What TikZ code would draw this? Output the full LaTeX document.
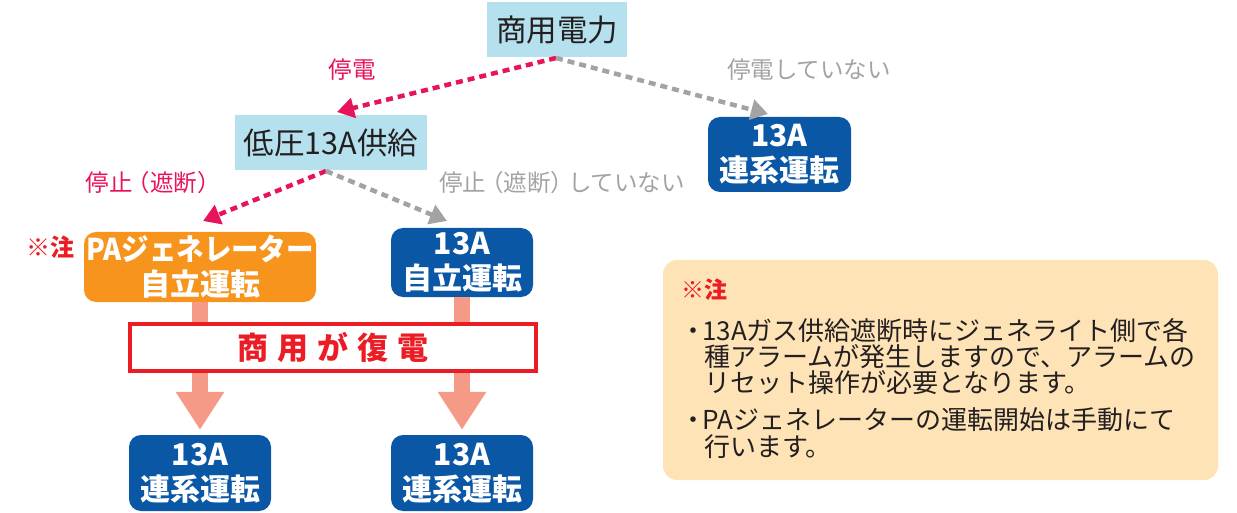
\documentclass[tikz,border=0pt]{standalone}
\usepackage{fontspec}
\setmainfont{Noto Sans CJK JP}
\usetikzlibrary{arrows.meta}
\definecolor{lblue}{HTML}{B5E1EE}
\definecolor{dblue}{HTML}{0A57A5}
\definecolor{orng}{HTML}{F7941D}
\definecolor{pnk}{HTML}{E8145A}
\definecolor{gry}{HTML}{A3A3A5}
\definecolor{slmn}{HTML}{F59A86}
\definecolor{rd}{HTML}{EC1C24}
\definecolor{notebg}{HTML}{FEE3B6}
\definecolor{txt}{HTML}{231F20}
\tikzset{
  lbbox/.style={fill=lblue, text=txt, inner sep=0pt, font=\fontsize{30.5}{33}\selectfont},
  bluebox/.style={fill=dblue, rounded corners=12pt, text=white, inner sep=0pt, align=center, font=\fontsize{30}{35}\selectfont\bfseries},
  orbox/.style={fill=orng, rounded corners=12pt, text=white, inner sep=0pt, align=center, font=\fontsize{30}{35}\selectfont\bfseries},
  lbl/.style={inner sep=0pt, font=\fontsize{23.5}{26}\selectfont},
  pdot/.style={pnk, line width=4.5pt, dash pattern=on 7pt off 5pt, -{Triangle[width=20pt,length=17pt]}},
  gdot/.style={gry, line width=4.5pt, dash pattern=on 7pt off 5pt, -{Triangle[width=20pt,length=17pt]}},
  bigarrow/.style={slmn, line width=16pt, -{Triangle[width=46pt,length=38pt]}},
  noteline/.style={anchor=west, inner sep=0pt, text=txt, font=\fontsize{26}{26}\selectfont},
}
\begin{document}
\begin{tikzpicture}[x=1pt,y=-1pt]
\useasboundingbox (0,0) rectangle (1237,513);
% top level
\node[lbbox, minimum width=140pt, minimum height=55pt] (shoyo) at (557,29.5) {商用電力};
\node[lbbox, minimum width=192pt, minimum height=55pt] (teiatsu) at (331,142.5) {低圧13A供給};
\node[bluebox, minimum width=143pt, minimum height=75pt] (renkeiA) at (779.5,154.5) {13A\\連系運転};
% labels
\node[lbl, text=pnk] (lteiden) at (352,70) {停電};
\node[lbl, text=gry] (lnot) at (809,70) {停電していない};
\node[lbl, text=pnk] (lstop) at (150,183) {停止\kern-6pt（遮断）\kern-6pt};
\node[lbl, text=gry] (lnstop) at (562,183) {停止\kern-6pt（遮断）\kern-6pt していない};
% dotted connectors
\coordinate (p1) at (556,58);
\coordinate (t1) at (337,112);
\coordinate (t2) at (768,114);
\draw[pdot] (p1) -- (t1);
\draw[gdot] (p1) -- (t2);
\coordinate (p2) at (326,171);
\coordinate (t3) at (203,221);
\coordinate (t4) at (447,221);
\draw[pdot] (p2) -- (t3);
\draw[gdot] (p2) -- (t4);
% second level
\node[orbox, minimum width=232pt, minimum height=70pt] (pagen) at (200,267) {\scalebox{0.915}[1]{PAジェネレーター}\\自立運転};
\node[inner sep=0pt, text=rd, font=\fontsize{24}{26}\selectfont\bfseries] (chu1) at (51,247) {※注};
\node[bluebox, minimum width=142pt, minimum height=69pt] (jiritsu) at (462,262.5) {13A\\自立運転};
% bottom
\node[bluebox, minimum width=142pt, minimum height=76pt] (bl) at (200,473) {13A\\連系運転};
\node[bluebox, minimum width=142pt, minimum height=76pt] (br) at (462,473) {13A\\連系運転};
\draw[bigarrow, shorten >=5pt] (pagen.south) -- (bl.north);
\draw[bigarrow, shorten >=5pt] (jiritsu.south) -- (br.north);
\node[draw=rd, line width=4pt, fill=white, minimum width=406pt, minimum height=47pt, inner sep=0pt, text=rd, font=\fontsize{31}{33}\selectfont\bfseries] (fukuden) at (333,347) {商\hspace{9pt}用\hspace{9pt}が\hspace{9pt}復\hspace{9pt}電};
% note
\node[fill=notebg, rounded corners=14pt, minimum width=555pt, minimum height=220pt, inner sep=0pt] (note) at (940.5,370) {};
\node[anchor=west, inner sep=0pt, text=rd, font=\fontsize{23}{26}\selectfont\bfseries] (chu2) at (681,290) {※注};
\node[noteline] (n1) at (680,331) {・\kern-4pt 13Aガス供給遮断時にジェネライト側で各};
\node[noteline] (n2) at (704,357) {種アラームが発生しますので、アラームの};
\node[noteline] (n3) at (704,383) {リセット操作が必要となります。};
\node[noteline] (n4) at (680,420) {・\kern-4pt PAジェネレーターの運転開始は手動にて};
\node[noteline] (n5) at (704,447) {行います。};
\end{tikzpicture}
\end{document}
